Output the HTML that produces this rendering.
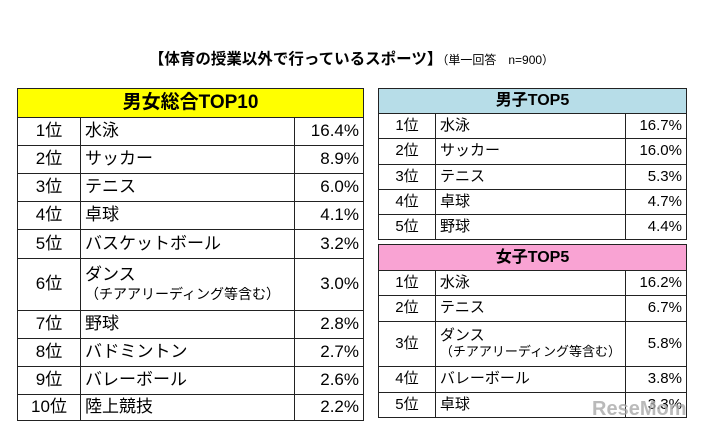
<!DOCTYPE html>
<html><head><meta charset="utf-8"><style>
body{margin:0;width:703px;height:430px;background:#fff;font-family:"Liberation Sans","Noto Sans CJK JP",sans-serif;position:relative;overflow:hidden;color:#000}
.t{position:absolute;border-collapse:collapse}
.t td{border:1.5px solid #222;padding:0 4px;white-space:nowrap;line-height:1.1}
.h{text-align:center;font-weight:bold}
.r{text-align:right}
.c{text-align:center}
</style></head><body>
<div style="position:absolute;top:47px;left:0;width:703px;text-align:center;white-space:nowrap"><span style="font-weight:bold;font-size:15.5px">【体育の授業以外で行っているスポーツ】</span><span style="font-size:12px">（単一回答　n=900）</span></div>

<table class="t" style="left:17px;top:88px;width:347px;font-size:17px">
<tr style="height:29px"><td colspan="3" class="h" style="background:#ffff00;font-size:19px">男女総合TOP10</td></tr>
<tr style="height:28px"><td class="c" style="width:54px">1位</td><td>水泳</td><td class="r" style="width:60px">16.4%</td></tr>
<tr style="height:28px"><td class="c">2位</td><td>サッカー</td><td class="r">8.9%</td></tr>
<tr style="height:28px"><td class="c">3位</td><td>テニス</td><td class="r">6.0%</td></tr>
<tr style="height:28px"><td class="c">4位</td><td>卓球</td><td class="r">4.1%</td></tr>
<tr style="height:29px"><td class="c">5位</td><td>バスケットボール</td><td class="r">3.2%</td></tr>
<tr style="height:52px"><td class="c">6位</td><td>ダンス<br><span style="font-size:14px">（チアアリーディング等含む）</span></td><td class="r">3.0%</td></tr>
<tr style="height:28px"><td class="c">7位</td><td>野球</td><td class="r">2.8%</td></tr>
<tr style="height:28px"><td class="c">8位</td><td>バドミントン</td><td class="r">2.7%</td></tr>
<tr style="height:28px"><td class="c">9位</td><td>バレーボール</td><td class="r">2.6%</td></tr>
<tr style="height:26px"><td class="c">10位</td><td>陸上競技</td><td class="r">2.2%</td></tr>
</table>

<table class="t" style="left:378px;top:88px;width:309px;font-size:15px">
<tr style="height:25px"><td colspan="3" class="h" style="background:#b7dde8;font-size:16px">男子TOP5</td></tr>
<tr style="height:25px"><td class="c" style="width:48px">1位</td><td>水泳</td><td class="r" style="width:52px">16.7%</td></tr>
<tr style="height:26px"><td class="c">2位</td><td>サッカー</td><td class="r">16.0%</td></tr>
<tr style="height:25px"><td class="c">3位</td><td>テニス</td><td class="r">5.3%</td></tr>
<tr style="height:25px"><td class="c">4位</td><td>卓球</td><td class="r">4.7%</td></tr>
<tr style="height:25px"><td class="c">5位</td><td>野球</td><td class="r">4.4%</td></tr>
</table>

<table class="t" style="left:378px;top:244px;width:309px;font-size:15px">
<tr style="height:26px"><td colspan="3" class="h" style="background:#f9a3d3;font-size:16px">女子TOP5</td></tr>
<tr style="height:25px"><td class="c" style="width:48px">1位</td><td>水泳</td><td class="r" style="width:52px">16.2%</td></tr>
<tr style="height:26px"><td class="c">2位</td><td>テニス</td><td class="r">6.7%</td></tr>
<tr style="height:45px"><td class="c">3位</td><td>ダンス<br><span style="font-size:13px">（チアアリーディング等含む）</span></td><td class="r">5.8%</td></tr>
<tr style="height:26px"><td class="c">4位</td><td>バレーボール</td><td class="r">3.8%</td></tr>
<tr style="height:25px"><td class="c">5位</td><td>卓球</td><td class="r">3.3%</td></tr>
</table>
<div style="position:absolute;left:592px;top:398px;font-size:20px;font-weight:bold;color:#aaa;opacity:.8">ReseMom</div>
</body></html>
